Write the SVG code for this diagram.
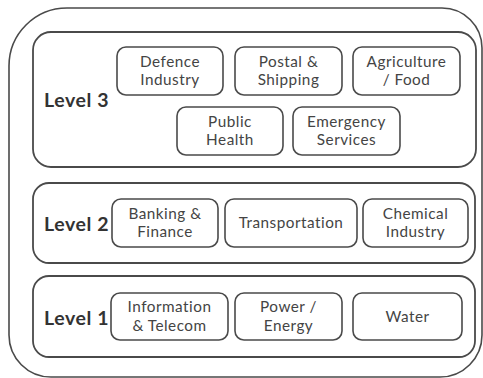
<svg xmlns="http://www.w3.org/2000/svg" width="483" height="378" viewBox="0 0 483 378">
<style>
.frame{fill:none;stroke:#4a4a4a;stroke-width:1.6}
.level{fill:#fff;stroke:#4a4a4a;stroke-width:1.8}
.node{fill:#fff;stroke:#4a4a4a;stroke-width:1.6}
.lbl{font-family:Lato,"Open Sans","Liberation Sans",sans-serif;font-weight:bold;font-size:19.5px;letter-spacing:0.6px;fill:#333}
.t{font-family:Lato,"Open Sans","Liberation Sans",sans-serif;font-size:15.3px;letter-spacing:0.5px;fill:#444;text-anchor:middle}
</style>
<rect width="483" height="378" fill="#fff"/>
<path class="frame" d="M67,8 H442 A40,40 0 0 1 482,48 V335 A42,42 0 0 1 440,377 H51 A42,42 0 0 1 9,335 V66 A58,58 0 0 1 67,8 Z"/>
<g id="level3">
<rect class="level" x="33" y="32" width="443" height="135" rx="18"/>
<text class="lbl" x="44" y="107">Level 3</text>
</g>
<g id="level2">
<rect class="level" x="33" y="183" width="442" height="80" rx="16"/>
<text class="lbl" x="44" y="231">Level 2</text>
</g>
<g id="level1">
<rect class="level" x="33" y="276" width="442" height="81" rx="16"/>
<text class="lbl" x="44" y="325">Level 1</text>
</g>
<g id="defence">
<rect class="node" x="117" y="47" width="106" height="48" rx="9"/>
<text class="t" x="170" y="66.8">Defence</text><text class="t" x="170" y="85.3">Industry</text>
</g>
<g id="postal">
<rect class="node" x="235" y="47" width="107" height="48" rx="9"/>
<text class="t" x="288.5" y="66.8">Postal &amp;</text><text class="t" x="288.5" y="85.3">Shipping</text>
</g>
<g id="agriculture">
<rect class="node" x="353" y="47" width="107" height="48" rx="9"/>
<text class="t" x="406.5" y="66.8">Agriculture</text><text class="t" x="406.5" y="85.3">/ Food</text>
</g>
<g id="publichealth">
<rect class="node" x="177" y="107" width="106" height="48" rx="9"/>
<text class="t" x="230" y="126.8">Public</text><text class="t" x="230" y="145.3">Health</text>
</g>
<g id="emergency">
<rect class="node" x="293" y="107" width="107" height="48" rx="9"/>
<text class="t" x="346.5" y="126.8">Emergency</text><text class="t" x="346.5" y="145.3">Services</text>
</g>
<g id="banking">
<rect class="node" x="112" y="199" width="106" height="48" rx="9"/>
<text class="t" x="165" y="218.8">Banking &amp;</text><text class="t" x="165" y="237.3">Finance</text>
</g>
<g id="transportation">
<rect class="node" x="225" y="199" width="132" height="48" rx="9"/>
<text class="t" x="291" y="228">Transportation</text>
</g>
<g id="chemical">
<rect class="node" x="363" y="199" width="105" height="48" rx="9"/>
<text class="t" x="415.5" y="218.8">Chemical</text><text class="t" x="415.5" y="237.3">Industry</text>
</g>
<g id="information">
<rect class="node" x="111" y="293" width="117" height="47" rx="9"/>
<text class="t" x="169.5" y="312.3">Information</text><text class="t" x="169.5" y="330.8">&amp; Telecom</text>
</g>
<g id="power">
<rect class="node" x="235" y="293" width="107" height="47" rx="9"/>
<text class="t" x="288.5" y="312.3">Power /</text><text class="t" x="288.5" y="330.8">Energy</text>
</g>
<g id="water">
<rect class="node" x="353" y="293" width="109" height="47" rx="9"/>
<text class="t" x="407.5" y="322">Water</text>
</g>
<g id="connectors"/>
</svg>
